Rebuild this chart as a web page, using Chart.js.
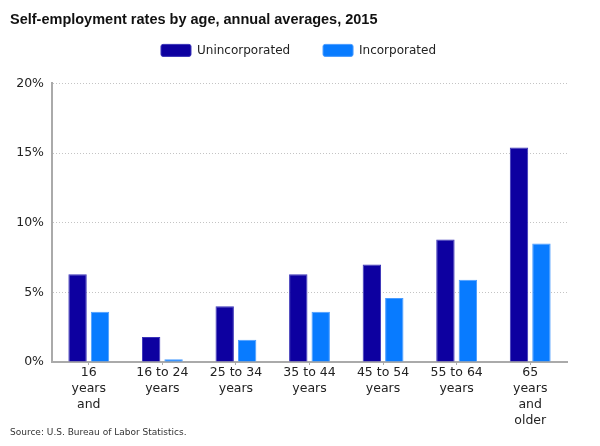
<!DOCTYPE html>
<html>
<head>
<meta charset="utf-8">
<script src="https://cdn.jsdelivr.net/npm/chart.js@4.4.1/dist/chart.umd.min.js"></script>
<style>
html,body{margin:0;padding:0;background:#fff;}
#wrap{width:600px;height:446px;position:relative;}
</style>
</head>
<body>
<div id="wrap"><canvas id="c" width="600" height="446"></canvas></div>
<script>
const categories = [
  ["16", "years", "and"],
  ["16 to 24", "years"],
  ["25 to 34", "years"],
  ["35 to 44", "years"],
  ["45 to 54", "years"],
  ["55 to 64", "years"],
  ["65", "years", "and", "older"]
];
const unincorporated = [6.3, 1.8, 4.0, 6.3, 7.0, 8.8, 15.4];
const incorporated = [3.6, 0.2, 1.6, 3.6, 4.6, 5.9, 8.5];
const yTicks = [0, 5, 10, 15, 20];
const titleText = "Self-employment rates by age, annual averages, 2015";
const sourceText = "Source: U.S. Bureau of Labor Statistics.";

const sourcePlugin = {
  id: 'sourceNote',
  afterInit(chart) {
    const lg = chart.legend;
    if (lg) {
      const f = lg.fit;
      lg.fit = function () { f.call(this); this.height += 17; };
    }
  },
  afterLayout(chart) {
    const lg = chart.legend;
    if (lg) { lg.left += 10; lg.right += 10; }
  },
  afterDraw(chart) {
    const ctx = chart.ctx;
    ctx.save();
    ctx.font = '9px "DejaVu Sans", Verdana, sans-serif';
    ctx.fillStyle = '#333';
    ctx.textBaseline = 'middle';
    ctx.textAlign = 'left';
    ctx.fillText(sourceText, 10, 433);
    ctx.restore();
  }
};

new Chart(document.getElementById('c'), {
  type: 'bar',
  data: {
    labels: categories,
    datasets: [
      {label: 'Unincorporated', data: unincorporated, backgroundColor: '#0d00a0', borderColor: '#3a33b8', borderWidth: 1},
      {label: 'Incorporated', data: incorporated, backgroundColor: '#087bff', borderColor: '#4a9cff', borderWidth: 1}
    ]
  },
  plugins: [sourcePlugin],
  options: {
    responsive: false,
    animation: false,
    layout: {padding: {left: 10, right: 33, top: 0, bottom: 0}},
    datasets: {bar: {categoryPercentage: 0.61, barPercentage: 0.82}},
    plugins: {
      title: {
        display: true, text: titleText, align: 'start', color: '#111',
        font: {family: '"Liberation Sans", Arial, sans-serif', size: 14.5, weight: 'bold'},
        padding: {top: 11, bottom: 6}
      },
      legend: {
        display: true, position: 'top', align: 'center',
        labels: {
          boxWidth: 30, boxHeight: 12, padding: 10, color: '#222',
          font: {family: '"DejaVu Sans", Verdana, sans-serif', size: 12},
          useBorderRadius: true, borderRadius: 2,
          generateLabels(chart) {
            const items = Chart.defaults.plugins.legend.labels.generateLabels(chart);
            if (items.length) items[0].text = items[0].text + '      ';
            return items;
          }
        }
      },
      tooltip: {enabled: false}
    },
    scales: {
      x: {
        grid: {display: true, drawOnChartArea: false, offset: false, tickLength: 3, color: '#aaa'},
        border: {display: true, color: '#aaa', width: 2},
        ticks: {color: '#222', padding: 0, maxRotation: 0, autoSkip: false,
          font: {family: '"DejaVu Sans", Verdana, sans-serif', size: 12.5, lineHeight: 1.28}},
        afterFit(s) { s.height = 84; }
      },
      y: {
        min: 0, max: 20,
        afterBuildTicks(s) { s.ticks = yTicks.map(v => ({value: v})); },
        grid: {color: '#c4c4c4', drawTicks: false},
        border: {display: true, color: '#aaa', width: 2, dash: [1, 2]},
        ticks: {color: '#222', padding: 8,
          font: {family: '"DejaVu Sans", Verdana, sans-serif', size: 12.5},
          callback: v => v + '%'},
        afterFit(s) { s.width = 42; }
      }
    }
  }
});
</script>
</body>
</html>
